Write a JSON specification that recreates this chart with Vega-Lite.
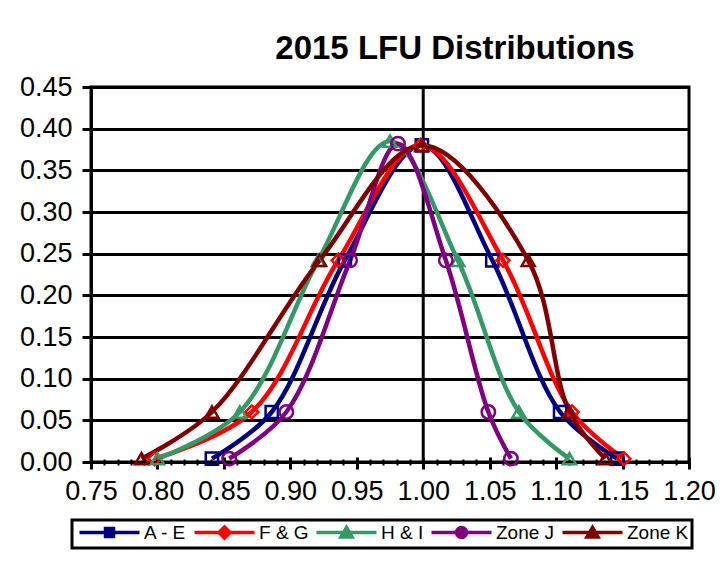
{
  "$schema": "https://vega.github.io/schema/vega-lite/v6.json",
  "width": 598,
  "height": 375,
  "autosize": {"type": "none"},
  "padding": {"left": 91, "top": 87, "right": 34, "bottom": 99},
  "background": "white",
  "title": {"text": "2015 LFU Distributions", "fontSize": 33, "font": "Liberation Sans", "fontWeight": "bold", "color": "black", "anchor": "middle", "dx": 65, "offset": 7},
  "config": {
    "font": "Liberation Sans",
    "view": {"stroke": "black", "strokeWidth": 3},
    "axis": {"labelFont": "Liberation Sans", "labelFontSize": 27, "labelColor": "black", "domainColor": "black", "domainWidth": 3, "tickColor": "black", "tickWidth": 3, "labelFlush": false, "labelOverlap": false}
  },
  "datasets": {
    "lfu": [
      {"series": "A - E", "x": 0.841, "y": 0.004},
      {"series": "A - E", "x": 0.886, "y": 0.06},
      {"series": "A - E", "x": 0.941, "y": 0.242},
      {"series": "A - E", "x": 0.999, "y": 0.38},
      {"series": "A - E", "x": 1.052, "y": 0.242},
      {"series": "A - E", "x": 1.103, "y": 0.06},
      {"series": "A - E", "x": 1.146, "y": 0.004},
      {"series": "F & G", "x": 0.798, "y": 0.004},
      {"series": "F & G", "x": 0.871, "y": 0.06},
      {"series": "F & G", "x": 0.936, "y": 0.242},
      {"series": "F & G", "x": 0.998, "y": 0.38},
      {"series": "F & G", "x": 1.06, "y": 0.242},
      {"series": "F & G", "x": 1.112, "y": 0.06},
      {"series": "F & G", "x": 1.151, "y": 0.004},
      {"series": "H & I", "x": 0.8, "y": 0.004},
      {"series": "H & I", "x": 0.862, "y": 0.06},
      {"series": "H & I", "x": 0.921, "y": 0.242},
      {"series": "H & I", "x": 0.975, "y": 0.385},
      {"series": "H & I", "x": 1.026, "y": 0.242},
      {"series": "H & I", "x": 1.072, "y": 0.06},
      {"series": "H & I", "x": 1.11, "y": 0.004},
      {"series": "Zone J", "x": 0.854, "y": 0.004},
      {"series": "Zone J", "x": 0.897, "y": 0.06},
      {"series": "Zone J", "x": 0.945, "y": 0.242},
      {"series": "Zone J", "x": 0.981, "y": 0.382},
      {"series": "Zone J", "x": 1.017, "y": 0.242},
      {"series": "Zone J", "x": 1.049, "y": 0.06},
      {"series": "Zone J", "x": 1.066, "y": 0.004},
      {"series": "Zone K", "x": 0.788, "y": 0.004},
      {"series": "Zone K", "x": 0.841, "y": 0.06},
      {"series": "Zone K", "x": 0.922, "y": 0.242},
      {"series": "Zone K", "x": 0.999, "y": 0.38},
      {"series": "Zone K", "x": 1.079, "y": 0.242},
      {"series": "Zone K", "x": 1.11, "y": 0.06},
      {"series": "Zone K", "x": 1.137, "y": 0.004}
    ]
  },
  "data": {"name": "lfu"},
  "layer": [
    {
      "data": {"values": [{}]},
      "mark": {"type": "rule", "color": "black", "strokeWidth": 3},
      "encoding": {"x": {"datum": 1.0, "type": "quantitative", "axis": null}}
    },
    {
      "mark": {"type": "line", "interpolate": "catmull-rom", "strokeWidth": 4.5},
      "encoding": {
        "x": {"field": "x", "type": "quantitative", "scale": {"domain": [0.75, 1.2], "nice": false, "zero": false},
          "axis": {"orient": "bottom", "title": null, "values": [0.75, 0.8, 0.85, 0.9, 0.95, 1.0, 1.05, 1.1, 1.15, 1.2], "format": ".2f", "ticks": false, "tickSize": 0, "labelPadding": 16, "grid": false, "domain": true}},
        "y": {"field": "y", "type": "quantitative", "scale": {"domain": [0, 0.45], "nice": false},
          "axis": {"title": null, "values": [0, 0.05, 0.1, 0.15, 0.2, 0.25, 0.3, 0.35, 0.4, 0.45], "format": ".2f", "tickSize": 9, "grid": true, "gridColor": "black", "gridWidth": 3, "gridOpacity": 1, "labelPadding": 10}},
        "color": {"field": "series", "type": "nominal", "scale": {"domain": ["A - E", "F & G", "H & I", "Zone J", "Zone K"], "range": ["#000080", "#FF0000", "#339966", "#800080", "#800000"]},
          "legend": {"orient": "none", "legendX": -19, "legendY": 433, "direction": "horizontal", "columns": 5, "gridAlign": "none", "title": null, "labelFontSize": 19, "labelFont": "Liberation Sans", "labelColor": "black", "symbolSize": 100, "symbolStrokeWidth": 3.5, "labelOffset": 50, "columnPadding": 0, "strokeColor": "black", "padding": 3, "symbolOpacity": 1, "labelLimit": 0,
            "encode": {"legend": {"update": {"strokeWidth": {"value": 3}}}, "symbols": {"update": {"fill": {"scale": "color", "field": "value"}, "stroke": {"scale": "color", "field": "value"}, "strokeWidth": {"value": 3.5}, "opacity": {"value": 1}}}}}}
      }
    },
    {
      "transform": [{"filter": "datum.series === 'A - E'"}],
      "mark": {"type": "point", "shape": "square", "filled": false, "strokeWidth": 2.5, "size": 150, "color": "#000080", "opacity": 1},
      "encoding": {
        "x": {"field": "x", "type": "quantitative",
          "axis": {"orient": "bottom", "title": null, "values": [0.75, 0.8, 0.85, 0.9, 0.95, 1.0, 1.05, 1.1, 1.15, 1.2], "labels": false, "domain": false, "grid": false, "tickSize": 12, "offset": -5}},
        "y": {"field": "y", "type": "quantitative",
          "axis": {"title": null, "values": [0, 0.05, 0.1, 0.15, 0.2, 0.25, 0.3, 0.35, 0.4, 0.45], "format": ".2f", "tickSize": 9, "grid": true, "gridColor": "black", "gridWidth": 3, "gridOpacity": 1, "labelPadding": 10}}
      }
    },
    {
      "transform": [{"filter": "datum.series === 'F & G'"}],
      "mark": {"type": "point", "shape": "diamond", "filled": false, "strokeWidth": 2.5, "size": 170, "color": "#FF0000", "opacity": 1},
      "encoding": {
        "x": {"field": "x", "type": "quantitative", "axis": null},
        "y": {"field": "y", "type": "quantitative",
          "axis": {"title": null, "values": [0, 0.05, 0.1, 0.15, 0.2, 0.25, 0.3, 0.35, 0.4, 0.45], "format": ".2f", "tickSize": 9, "grid": true, "gridColor": "black", "gridWidth": 3, "gridOpacity": 1, "labelPadding": 10}}
      }
    },
    {
      "transform": [{"filter": "datum.series === 'H & I'"}],
      "mark": {"type": "point", "shape": "triangle-up", "filled": false, "strokeWidth": 2.5, "size": 170, "color": "#339966", "opacity": 1},
      "encoding": {
        "x": {"field": "x", "type": "quantitative", "axis": null},
        "y": {"field": "y", "type": "quantitative",
          "axis": {"title": null, "values": [0, 0.05, 0.1, 0.15, 0.2, 0.25, 0.3, 0.35, 0.4, 0.45], "format": ".2f", "tickSize": 9, "grid": true, "gridColor": "black", "gridWidth": 3, "gridOpacity": 1, "labelPadding": 10}}
      }
    },
    {
      "transform": [{"filter": "datum.series === 'Zone J'"}],
      "mark": {"type": "point", "shape": "circle", "filled": false, "strokeWidth": 2.5, "size": 180, "color": "#800080", "opacity": 1},
      "encoding": {
        "x": {"field": "x", "type": "quantitative", "axis": null},
        "y": {"field": "y", "type": "quantitative",
          "axis": {"title": null, "values": [0, 0.05, 0.1, 0.15, 0.2, 0.25, 0.3, 0.35, 0.4, 0.45], "format": ".2f", "tickSize": 9, "grid": true, "gridColor": "black", "gridWidth": 3, "gridOpacity": 1, "labelPadding": 10}}
      }
    },
    {
      "transform": [{"filter": "datum.series === 'Zone K'"}],
      "mark": {"type": "point", "shape": "triangle-up", "filled": false, "strokeWidth": 2.5, "size": 170, "color": "#800000", "opacity": 1},
      "encoding": {
        "x": {"field": "x", "type": "quantitative", "axis": null},
        "y": {"field": "y", "type": "quantitative",
          "axis": {"title": null, "values": [0, 0.05, 0.1, 0.15, 0.2, 0.25, 0.3, 0.35, 0.4, 0.45], "format": ".2f", "tickSize": 9, "grid": true, "gridColor": "black", "gridWidth": 3, "gridOpacity": 1, "labelPadding": 10}}
      }
    },
    {
      "transform": [{"filter": "datum.y < 0"}],
      "mark": {"type": "point", "filled": true, "strokeWidth": 3, "size": 100},
      "encoding": {
        "x": {"field": "x", "type": "quantitative",
          "axis": {"orient": "bottom", "title": null, "values": [0.75, 0.76, 0.77, 0.78, 0.79, 0.8, 0.81, 0.82, 0.83, 0.84, 0.85, 0.86, 0.87, 0.88, 0.89, 0.9, 0.91, 0.92, 0.93, 0.94, 0.95, 0.96, 0.97, 0.98, 0.99, 1.0, 1.01, 1.02, 1.03, 1.04, 1.05, 1.06, 1.07, 1.08, 1.09, 1.1, 1.11, 1.12, 1.13, 1.14, 1.15, 1.16, 1.17, 1.18, 1.19, 1.2], "labels": false, "domain": false, "grid": false, "tickSize": 6, "tickWidth": 2, "offset": -3}},
        "y": {"field": "y", "type": "quantitative",
          "axis": {"title": null, "values": [0, 0.05, 0.1, 0.15, 0.2, 0.25, 0.3, 0.35, 0.4, 0.45], "format": ".2f", "tickSize": 9, "grid": true, "gridColor": "black", "gridWidth": 3, "gridOpacity": 1, "labelPadding": 10}},
        "color": {"field": "series", "type": "nominal", "scale": {"domain": ["A - E", "F & G", "H & I", "Zone J", "Zone K"], "range": ["#000080", "#FF0000", "#339966", "#800080", "#800000"]},
          "legend": {"orient": "none", "legendX": -19, "legendY": 433, "direction": "horizontal", "columns": 5, "gridAlign": "none", "title": null, "labelFontSize": 19, "labelFont": "Liberation Sans", "labelColor": "black", "symbolSize": 100, "symbolStrokeWidth": 3.5, "labelOffset": 50, "columnPadding": 0, "strokeColor": "black", "padding": 3, "symbolOpacity": 1, "labelLimit": 0,
            "encode": {"legend": {"update": {"strokeWidth": {"value": 3}}}, "symbols": {"update": {"fill": {"scale": "color", "field": "value"}, "stroke": {"scale": "color", "field": "value"}, "strokeWidth": {"value": 3.5}, "opacity": {"value": 1}}}}}},
        "shape": {"field": "series", "type": "nominal", "scale": {"domain": ["A - E", "F & G", "H & I", "Zone J", "Zone K"], "range": [
            "M-1,0H11M4.2,-0.8H5.8V0.8H4.2Z",
            "M-1,0H11M5,-1.1L6.1,0L5,1.1L3.9,0Z",
            "M-1,0H11M5,-1L6.1,0.9H3.9Z",
            "M-1,0H11M4,0A1,1 0 1,0 6,0A1,1 0 1,0 4,0Z",
            "M-1,0H11M5,-1L6.1,0.9H3.9Z"]},
          "legend": {"orient": "none", "legendX": -19, "legendY": 433, "direction": "horizontal", "columns": 5, "gridAlign": "none", "title": null, "labelFontSize": 19, "labelFont": "Liberation Sans", "labelColor": "black", "symbolSize": 100, "symbolStrokeWidth": 3.5, "labelOffset": 50, "columnPadding": 0, "strokeColor": "black", "padding": 3, "symbolOpacity": 1, "labelLimit": 0,
            "encode": {"legend": {"update": {"strokeWidth": {"value": 3}}}, "symbols": {"update": {"fill": {"scale": "color", "field": "value"}, "stroke": {"scale": "color", "field": "value"}, "strokeWidth": {"value": 3.5}, "opacity": {"value": 1}}}}}}
      }
    }
  ],
  "resolve": {"axis": {"x": "independent"}}
}
